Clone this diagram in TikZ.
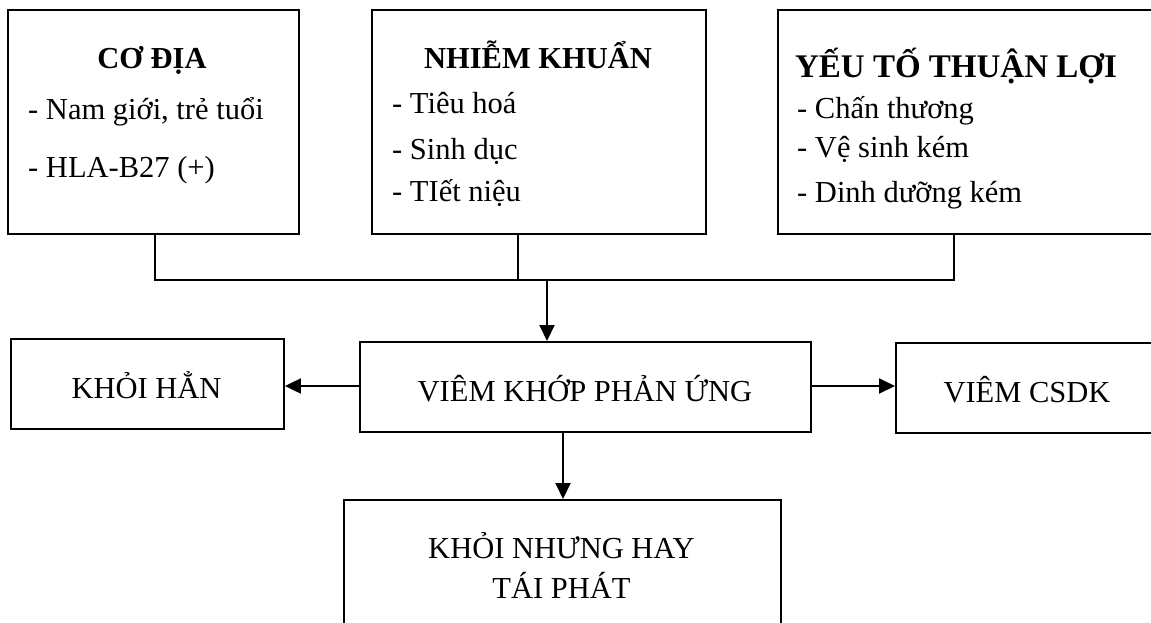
\documentclass[tikz,border=0pt]{standalone}
\usepackage{fontspec}
\setmainfont{Liberation Serif}
\usetikzlibrary{arrows.meta}
\begin{document}
\begin{tikzpicture}[x=1pt,y=-1pt,
  box/.style={draw,line width=1.9pt,inner sep=0pt,anchor=north west},
  line/.style={line width=1.9pt},
  arr/.style={line width=1.9pt,-{Triangle[length=16pt,width=15pt]}},
  txt/.style={inner sep=0pt,font=\fontsize{30.5}{36}\selectfont},
  ttl/.style={inner sep=0pt,font=\fontsize{30.5}{36}\selectfont\bfseries,anchor=base},
]
\clip (0,0) rectangle (1151,622);
\fill[white] (0,0) rectangle (1151,622);
% top boxes
\node[box,minimum width=291pt,minimum height=224pt] (b1) at (7,9) {};
\node[box,minimum width=334pt,minimum height=224pt] (b2) at (371,9) {};
\node[box,minimum width=383pt,minimum height=224pt] (b3) at (777,9) {};
% texts box 1
\node[ttl] (t1) at (152,68) {CƠ ĐỊA};
\node[txt,anchor=base west] (t1a) at (28,119) {- Nam giới, trẻ tuổi};
\node[txt,anchor=base west] (t1b) at (28,177) {- HLA-B27 (+)};
% texts box 2
\node[ttl] (t2) at (538,68) {NHIỄM KHUẨN};
\node[txt,anchor=base west] (t2a) at (392,113) {- Tiêu hoá};
\node[txt,anchor=base west] (t2b) at (392,159) {- Sinh dục};
\node[txt,anchor=base west] (t2c) at (392,201) {- TIết niệu};
% texts box 3
\node[ttl,font=\fontsize{33}{40}\selectfont\bfseries] (t3) at (956,77) {YẾU TỐ THUẬN LỢI};
\node[txt,anchor=base west] (t3a) at (797,118) {- Chấn thương};
\node[txt,anchor=base west] (t3b) at (797,157) {- Vệ sinh kém};
\node[txt,anchor=base west] (t3c) at (797,202) {- Dinh dưỡng kém};
% middle row
\node[box,minimum width=451pt,minimum height=90pt] (vk) at (359,341) {};
\node[box,minimum width=273pt,minimum height=90pt] (kh) at (10,338) {};
\node[box,minimum width=265pt,minimum height=90pt] (cs) at (895,342) {};
\node[box,minimum width=437pt,minimum height=160pt] (kn) at (343,499) {};
\node[txt,anchor=base] (vkt) at (585,401) {VIÊM KHỚP PHẢN ỨNG};
\node[txt,anchor=base] (kht) at (146.5,398) {KHỎI HẲN};
\node[txt,anchor=base] (cst) at (1027,402) {VIÊM CSDK};
\node[txt,anchor=base] (knt1) at (561.5,558) {KHỎI NHƯNG HAY};
\node[txt,anchor=base] (knt2) at (561.5,598) {TÁI PHÁT};
% connectors
\coordinate (j1) at (155,280);
\coordinate (j2) at (518,280);
\coordinate (j3) at (954,280);
\coordinate (jm) at (547,280);
\coordinate (yl) at (0,386);
\coordinate (xd) at (563,0);
\draw[line] (b1.south -| j1) -- (j1) -- (j3) -- (b3.south -| j3);
\draw[line] (b2.south -| j2) -- (j2);
\draw[arr] (jm) -- (vk.north -| jm);
\draw[arr] (vk.west |- yl) -- (kh.east |- yl);
\draw[arr] (vk.east |- yl) -- (cs.west |- yl);
\draw[arr] (vk.south -| xd) -- (kn.north -| xd);
\end{tikzpicture}
\end{document}
